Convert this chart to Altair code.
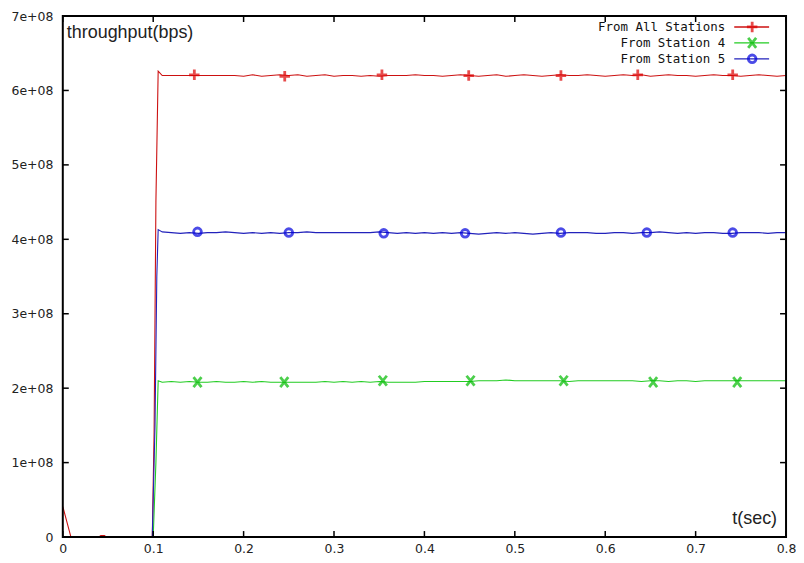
import altair as alt
import pandas as pd

# ---------------- data (values in units of 1e8 bps) ----------------
series = ["From All Stations", "From Station 4", "From Station 5"]
colors = ["#cc1111", "#22cc22", "#2222bb"]
marker_colors = ["#dd0000", "#00bb00", "#0000dd"]

# sample grid for the steady part: 0.11 .. 0.80 every 0.01
steady_t = [round(0.11 + 0.01 * i, 2) for i in range(70)]

red_head_t = [0.0, 0.009, 0.040, 0.042, 0.046, 0.048, 0.099, 0.101, 0.103, 0.1055]
red_head_v = [0.41, 0.0, 0.0, 0.02, 0.02, 0.0, 0.0, 1.4, 4.5, 6.26]
red_steady = [6.20, 6.20, 6.20, 6.20, 6.20, 6.20, 6.20, 6.20, 6.20, 6.19,
              6.21, 6.19, 6.20, 6.21, 6.20, 6.21, 6.19, 6.20, 6.21, 6.19,
              6.20, 6.20, 6.19, 6.20, 6.19, 6.20, 6.20, 6.20, 6.21, 6.20,
              6.20, 6.19, 6.20, 6.21, 6.20, 6.19, 6.20, 6.21, 6.19, 6.20,
              6.21, 6.20, 6.19, 6.20, 6.21, 6.20, 6.20, 6.21, 6.20, 6.19,
              6.20, 6.21, 6.20, 6.21, 6.19, 6.20, 6.21, 6.20, 6.20, 6.19,
              6.20, 6.21, 6.20, 6.20, 6.19, 6.20, 6.21, 6.20, 6.19, 6.20]

green_head_t = [0.0, 0.100, 0.103, 0.1055]
green_head_v = [0.0, 0.0, 1.0, 2.10]
green_steady = [2.08, 2.09, 2.08, 2.09, 2.08, 2.08, 2.09, 2.08, 2.08, 2.09,
                2.08, 2.09, 2.08, 2.08, 2.08, 2.08, 2.08, 2.08, 2.09, 2.08,
                2.09, 2.08, 2.09, 2.08, 2.09, 2.08, 2.08, 2.08, 2.08, 2.09,
                2.09, 2.09, 2.09, 2.09, 2.09, 2.10, 2.10, 2.10, 2.11, 2.10,
                2.10, 2.10, 2.10, 2.10, 2.10, 2.09, 2.10, 2.10, 2.10, 2.10,
                2.10, 2.10, 2.10, 2.09, 2.10, 2.10, 2.09, 2.10, 2.10, 2.09,
                2.10, 2.10, 2.10, 2.10, 2.10, 2.10, 2.10, 2.10, 2.10, 2.10]

blue_head_t = [0.0, 0.099, 0.102, 0.104, 0.1055]
blue_head_v = [0.0, 0.0, 1.5, 3.5, 4.13]
blue_steady = [4.10, 4.09, 4.08, 4.09, 4.08, 4.09, 4.09, 4.10, 4.09, 4.08,
               4.09, 4.08, 4.09, 4.08, 4.09, 4.09, 4.10, 4.09, 4.09, 4.09,
               4.09, 4.09, 4.09, 4.09, 4.10, 4.09, 4.08, 4.09, 4.08, 4.09,
               4.08, 4.09, 4.08, 4.09, 4.08, 4.07, 4.08, 4.09, 4.08, 4.09,
               4.08, 4.07, 4.08, 4.09, 4.08, 4.09, 4.09, 4.09, 4.08, 4.08,
               4.09, 4.09, 4.08, 4.09, 4.09, 4.10, 4.09, 4.08, 4.09, 4.08,
               4.09, 4.09, 4.08, 4.08, 4.09, 4.09, 4.09, 4.08, 4.09, 4.09]

# point markers (t, value)
red_mark_t = [0.1455, 0.2455, 0.353, 0.449, 0.551, 0.636, 0.741]
red_mark_v = [6.21, 6.19, 6.21, 6.20, 6.20, 6.21, 6.21]
green_mark_t = [0.149, 0.245, 0.354, 0.451, 0.554, 0.653, 0.746]
green_mark_v = [2.08, 2.08, 2.10, 2.10, 2.10, 2.08, 2.08]
blue_mark_t = [0.149, 0.250, 0.355, 0.445, 0.551, 0.646, 0.741]
blue_mark_v = [4.10, 4.09, 4.08, 4.08, 4.09, 4.09, 4.09]

x_ticks = [0, 0.1, 0.2, 0.3, 0.4, 0.5, 0.6, 0.7, 0.8]
y_ticks = [0, 1e8, 2e8, 3e8, 4e8, 5e8, 6e8, 7e8]

# ---------------- tables ----------------
rows = []
for name, ht, hv, sv in [
    (series[0], red_head_t, red_head_v, red_steady),
    (series[1], green_head_t, green_head_v, green_steady),
    (series[2], blue_head_t, blue_head_v, blue_steady),
]:
    for i, (t, v) in enumerate(zip(ht + steady_t, hv + sv)):
        rows.append({"series": name, "t": t, "v": v * 1e8, "order": i})
lines_df = pd.DataFrame(rows)

def marks_df(name, ts, vs):
    return pd.DataFrame({"series": name, "t": ts, "v": [v * 1e8 for v in vs]})

red_m = marks_df(series[0], red_mark_t, red_mark_v)
green_m = marks_df(series[1], green_mark_t, green_mark_v)
blue_m = marks_df(series[2], blue_mark_t, blue_mark_v)

W, H = 726, 523
xscale = alt.Scale(domain=[0, 0.8], nice=False, zero=False)
yscale = alt.Scale(domain=[0, 7e8], nice=False)
cscale = alt.Scale(domain=series, range=colors)

PLUS = "M-1,0L1,0M0,-1L0,1"
XSHAPE = "M-0.8,-1L0.8,1M-0.8,1L0.8,-1"

base_x = alt.X("t:Q", scale=xscale,
               axis=alt.Axis(values=x_ticks, ticks=False, domain=False, grid=False,
                             labelFlush=False, labelOverlap=False,
                             labelExpr="datum.value == 0 ? '0' : format(datum.value, '.1f')",
                             labelPadding=6, labelFontSize=12.5, labelFont="DejaVu Sans",
                             labelColor="#222", title=None))
base_y = alt.Y("v:Q", scale=yscale,
               axis=alt.Axis(values=y_ticks, ticks=False, domain=False, grid=False,
                             labelFlush=False, labelOverlap=False,
                             labelExpr="datum.value == 0 ? '0' : round(datum.value / 1e8) + 'e+08'",
                             labelPadding=10, labelFontSize=12.5, labelFont="DejaVu Sans",
                             labelColor="#222", title=None))

lines = alt.Chart(lines_df).mark_line(strokeWidth=1.1).encode(
    x=base_x, y=base_y,
    color=alt.Color("series:N", scale=cscale, legend=None),
    detail="series:N",
    order="order:Q",
)

red_pts = alt.Chart(red_m).mark_point(shape=PLUS, size=110, strokeWidth=2.8, filled=False,
                                      color=marker_colors[0]).encode(
    x=alt.X("t:Q", scale=xscale), y=alt.Y("v:Q", scale=yscale))
green_pts = alt.Chart(green_m).mark_point(shape=XSHAPE, size=100, strokeWidth=2.8, filled=False,
                                          color=marker_colors[1]).encode(
    x=alt.X("t:Q", scale=xscale), y=alt.Y("v:Q", scale=yscale))
blue_pts = alt.Chart(blue_m).mark_point(shape="circle", size=60, strokeWidth=2.8, filled=False,
                                        color=marker_colors[2]).encode(
    x=alt.X("t:Q", scale=xscale), y=alt.Y("v:Q", scale=yscale))

xt_df = pd.DataFrame({"t": x_ticks})
yt_df = pd.DataFrame({"v": y_ticks})
tick_bottom = alt.Chart(xt_df).mark_rule(color="black", strokeWidth=1.5).encode(
    x=alt.X("t:Q", scale=xscale), y=alt.value(H), y2=alt.value(H - 6))
tick_top = alt.Chart(xt_df).mark_rule(color="black", strokeWidth=1.5).encode(
    x=alt.X("t:Q", scale=xscale), y=alt.value(0), y2=alt.value(6))
tick_left = alt.Chart(yt_df).mark_rule(color="black", strokeWidth=1.5).encode(
    y=alt.Y("v:Q", scale=yscale), x=alt.value(0), x2=alt.value(6))
tick_right = alt.Chart(yt_df).mark_rule(color="black", strokeWidth=1.5).encode(
    y=alt.Y("v:Q", scale=yscale), x=alt.value(W), x2=alt.value(W - 6))

frame = alt.Chart(pd.DataFrame({"a": [0]})).mark_rect(
    filled=False, stroke="black", strokeWidth=2).encode(
    x=alt.value(0), x2=alt.value(W), y=alt.value(0), y2=alt.value(H))

ytitle = alt.Chart(pd.DataFrame({"s": ["throughput(bps)"]})).mark_text(
    align="left", baseline="alphabetic", font="Liberation Sans", fontSize=18, color="#222").encode(
    text="s:N", x=alt.value(4), y=alt.value(22))
xtitle = alt.Chart(pd.DataFrame({"s": ["t(sec)"]})).mark_text(
    align="right", baseline="alphabetic", font="Liberation Sans", fontSize=18, color="#222").encode(
    text="s:N", x=alt.value(717), y=alt.value(510))

# legend (label left, sample right), gnuplot style
legend_layers = []
leg_y = [11, 27, 43]
shapes = [(PLUS, 110, 2.8), (XSHAPE, 100, 2.8), ("circle", 60, 2.8)]
for i, name in enumerate(series):
    d = pd.DataFrame({"s": [name]})
    legend_layers.append(alt.Chart(d).mark_text(
        align="right", baseline="middle", font="DejaVu Sans Mono", fontSize=12.5, color="#111").encode(
        text="s:N", x=alt.value(665), y=alt.value(leg_y[i])))
    legend_layers.append(alt.Chart(d).mark_rule(color=colors[i], strokeWidth=1.3).encode(
        x=alt.value(674), x2=alt.value(709), y=alt.value(leg_y[i])))
    sh, sz, sw = shapes[i]
    legend_layers.append(alt.Chart(d).mark_point(shape=sh, size=sz, strokeWidth=sw, filled=False,
                                                 color=marker_colors[i]).encode(
        x=alt.value(692), y=alt.value(leg_y[i])))

chart = alt.layer(
    lines, red_pts, green_pts, blue_pts,
    tick_bottom, tick_top, tick_left, tick_right, frame,
    ytitle, xtitle, *legend_layers
).properties(
    width=W, height=H,
    autosize=alt.AutoSizeParams(type="none"),
    padding={"left": 55, "top": 7, "right": 10, "bottom": 22},
    background="white",
).configure_view(stroke=None)

chart.save("out.html", embed_options={"renderer": "svg", "actions": False})
